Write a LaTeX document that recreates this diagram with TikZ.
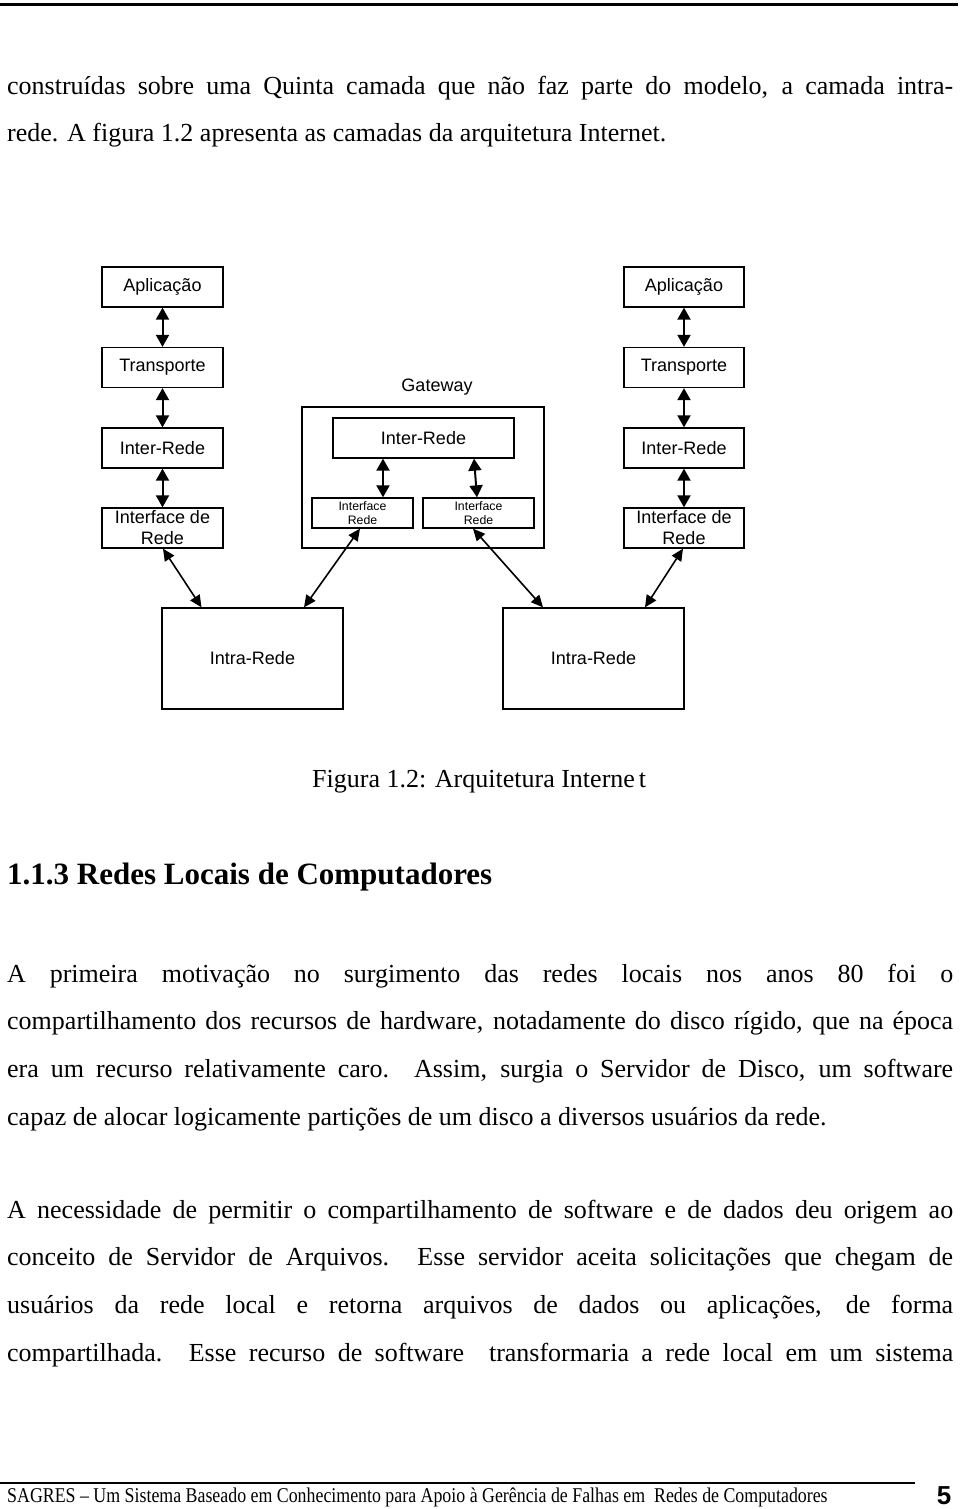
\documentclass[tikz,border=0pt]{standalone}
\usepackage{fontspec}
\setmainfont{Liberation Serif}
\newfontfamily\arialf{Liberation Sans}
\newfontfamily\footf[FakeStretch=0.85]{Liberation Serif}
\usetikzlibrary{arrows.meta}
\newcommand{\jl}[1]{\makebox[946pt][s]{#1}}
\begin{document}
\begin{tikzpicture}[x=1pt,y=-1pt,
  box/.style={draw, line width=1.3pt, inner sep=0pt, align=center,
    font=\arialf\fontsize{18}{21}\selectfont},
  smallbox/.style={box, font=\arialf\fontsize{12.3}{14.3}\selectfont},
  varrow/.style={{Triangle[length=12pt,width=13pt]}-{Triangle[length=12pt,width=13pt]}, line width=2pt},
  darrow/.style={{Triangle[length=12pt,width=11pt]}-{Triangle[length=12pt,width=11pt]}, line width=1.6pt},
  txt/.style={anchor=base west, inner sep=0pt, font=\fontsize{26}{30}\selectfont}]
\useasboundingbox (0,0) rectangle (960,1509);
\fill[white] (0,0) rectangle (960,1509);

% top rule and text
\draw[line width=3pt] (0,5) -- (958,5);
\node[txt] (t1) at (7,95) {\jl{construídas sobre uma Quinta camada que não faz parte do modelo, a camada intra-}};
\node[txt] (t2) at (7,142) {rede. A figura 1.2 apresenta as camadas da arquitetura Internet.};

% left column
\node[box, minimum width=121pt, minimum height=40pt] (la) at (162.5,287) {Aplicação};
\node[box, minimum width=121pt, minimum height=40pt] (lt) at (162.5,367.5) {Transporte};
\node[box, minimum width=121pt, minimum height=40pt] (li) at (162.5,448) {Inter-Rede};
\node[box, minimum width=121pt, minimum height=40pt] (lf) at (162.5,528) {Interface de\\Rede};

% right column
\node[box, minimum width=120pt, minimum height=40pt] (ra) at (684,287) {Aplicação};
\node[box, minimum width=120pt, minimum height=40pt] (rt) at (684,367.5) {Transporte};
\node[box, minimum width=120pt, minimum height=40pt] (ri) at (684,448) {Inter-Rede};
\node[box, minimum width=120pt, minimum height=40pt] (rf) at (684,528) {Interface de\\Rede};

% gateway
\node[box, minimum width=242pt, minimum height=141pt] (gw) at (423,477.5) {};
\node[inner sep=0pt, font=\arialf\fontsize{18}{21}\selectfont] (gwl) at (437,387) {Gateway};
\node[box, minimum width=181pt, minimum height=40pt] (gi) at (423.5,438) {Inter-Rede};
\node[smallbox, minimum width=101pt, minimum height=30pt] (gfl) at (362.5,513) {Interface\\Rede};
\node[smallbox, minimum width=111pt, minimum height=30pt] (gfr) at (478.5,513) {Interface\\Rede};

% intra-rede
\node[box, minimum width=181pt, minimum height=101pt] (nl) at (252.5,658.5) {Intra-Rede};
\node[box, minimum width=181pt, minimum height=101pt] (nr) at (593.5,658.5) {Intra-Rede};

% vertical arrows
\draw[varrow] (la) -- (lt);
\draw[varrow] (lt) -- (li);
\draw[varrow] (li) -- (lf);
\draw[varrow] (ra) -- (rt);
\draw[varrow] (rt) -- (ri);
\draw[varrow] (ri) -- (rf);
\draw[varrow] ([xshift=-40.5pt]gi.south) -- ([xshift=20.5pt]gfl.north);
\draw[varrow] ([xshift=50.5pt]gi.south) -- ([xshift=-1.5pt]gfr.north);

% diagonal arrows
\draw[darrow] ([xshift=0.5pt]lf.south) -- ([xshift=-51pt]nl.north);
\draw[darrow] ([xshift=-2.5pt]gfl.south) -- ([xshift=51.5pt]nl.north);
\draw[darrow] ([xshift=-5.5pt]gfr.south) -- ([xshift=-50.5pt]nr.north);
\draw[darrow] ([xshift=-1pt]rf.south) -- ([xshift=51.5pt]nr.north);

% caption and heading
\node[anchor=base west, inner sep=0pt, font=\fontsize{26}{30}\selectfont] (cap) at (312,787) {Figura 1.2: Arquitetura Interne\kern4pt t};
\node[anchor=base west, inner sep=0pt, font=\bfseries\fontsize{31}{35}\selectfont] (hd) at (7,884) {1.1.3 Redes Locais de Computadores};

% paragraph 1
\node[txt] (p1a) at (7,982) {\jl{A primeira motivação no surgimento das redes locais nos anos 80 foi o}};
\node[txt] (p1b) at (7,1029.7) {\jl{compartilhamento dos recursos de hardware, notadamente do disco rígido, que na época}};
\node[txt] (p1c) at (7,1077.4) {\jl{era um recurso relativamente caro. Assim, surgia o Servidor de Disco, um software}};
\node[txt] (p1d) at (7,1125) {capaz de alocar logicamente partições de um disco a diversos usuários da rede.};

% paragraph 2
\node[txt] (p2a) at (7,1218) {\jl{A necessidade de permitir o compartilhamento de software e de dados deu origem ao}};
\node[txt] (p2b) at (7,1265.7) {\jl{conceito de Servidor de Arquivos. Esse servidor aceita solicitações que chegam de}};
\node[txt] (p2c) at (7,1313.4) {\jl{usuários da rede local e retorna arquivos de dados ou aplicações, de forma}};
\node[txt] (p2d) at (7,1361) {\jl{compartilhada. Esse recurso de software \ transformaria a rede local em um sistema}};

% footer
\draw[line width=2pt] (0,1483) -- (915,1483);
\node[anchor=base west, inner sep=0pt, font=\footf\fontsize{21}{24}\selectfont] (ft) at (7,1502) {SAGRES – Um Sistema Baseado em Conhecimento para Apoio à Gerência de Falhas em \ Redes de Computadores};
\node[inner sep=0pt, font=\arialf\bfseries\fontsize{26}{30}\selectfont] (pg) at (944,1496) {5};
\end{tikzpicture}
\end{document}
